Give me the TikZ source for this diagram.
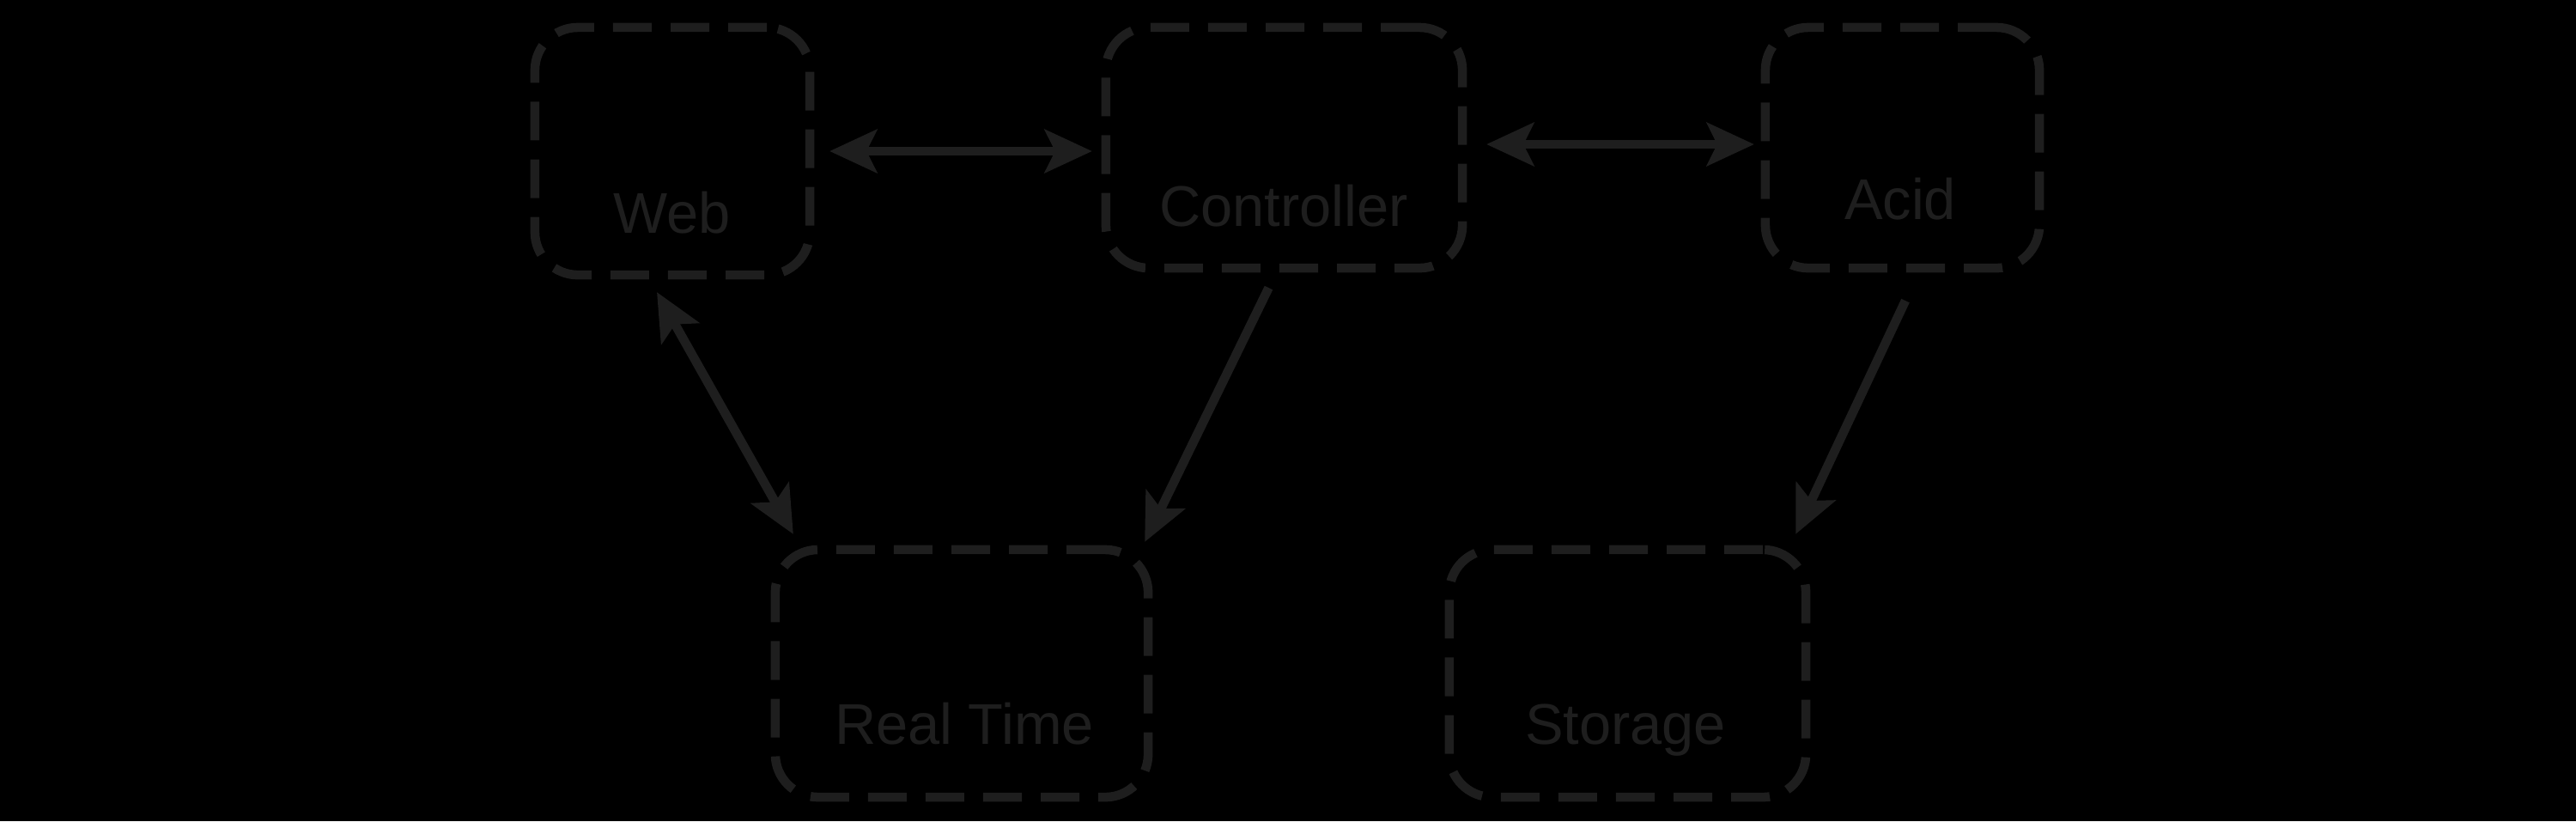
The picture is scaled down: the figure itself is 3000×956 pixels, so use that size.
\documentclass[tikz,border=0pt]{standalone}
\usepackage{fontspec}
\setmainfont{Liberation Sans}
\usetikzlibrary{arrows.meta,calc}
\definecolor{ink}{HTML}{1E1E1E}
\tikzset{
  boxnode/.style={draw=ink, line width=3pt, rounded corners=0.5cm,
    dash pattern=on 0.45cm off 0.22cm, inner sep=0pt, outer sep=0pt},
  lbl/.style={text=ink, font=\fontsize{19}{22}\selectfont, inner sep=0pt},
  conn/.style={draw=ink, line width=3pt, line cap=butt},
  hd/.tip={Stealth[length=0.55cm,width=0.5cm,inset=0.12cm]}
}
\begin{document}
\begin{tikzpicture}[x=0.01cm,y=-0.01cm]
\fill[black] (0,0) rectangle (3000,956);
\useasboundingbox (0,0) rectangle (3000,956);
% boxes
\node[boxnode, minimum width=3.2cm, minimum height=2.88cm] (web) at (783,176) {};
\node[boxnode, minimum width=4.15cm, minimum height=2.80cm] (ctrl) at (1495.5,172) {};
\node[boxnode, minimum width=3.19cm, minimum height=2.80cm] (acid) at (2215.5,172) {};
\node[boxnode, minimum width=4.34cm, minimum height=2.88cm] (rt) at (1120,784) {};
\node[boxnode, minimum width=4.15cm, minimum height=2.88cm] (stor) at (1895.5,784) {};
% labels
\node[lbl] (webl) at (783,248) {Web};
\node[lbl] (ctrll) at (1495,240) {Controller};
\node[lbl] (acidl) at (2213,232) {Acid};
\node[lbl] (rtl) at (1123,843) {Real Time};
\node[lbl] (storl) at (1893,850) {Storage};
% connectors
\draw[conn, hd-hd] ([shift={(23,0)}]web.east) -- ([shift={(-16,4)}]ctrl.west);
\draw[conn, hd-hd] ([shift={(28,-4)}]ctrl.east) -- ([shift={(-13,-4)}]acid.west);
\draw[conn, hd-hd] ([shift={(-18,20)}]web.south) -- ([shift={(21,-18)}]rt.north west);
\draw[conn, -hd] ([shift={(-18,23)}]ctrl.south) -- ([shift={(-4,-9)}]rt.north east);
\draw[conn, -hd] ([shift={(3.5,38)}]acid.south) -- ([shift={(-12,-18)}]stor.north east);
\end{tikzpicture}
\end{document}
